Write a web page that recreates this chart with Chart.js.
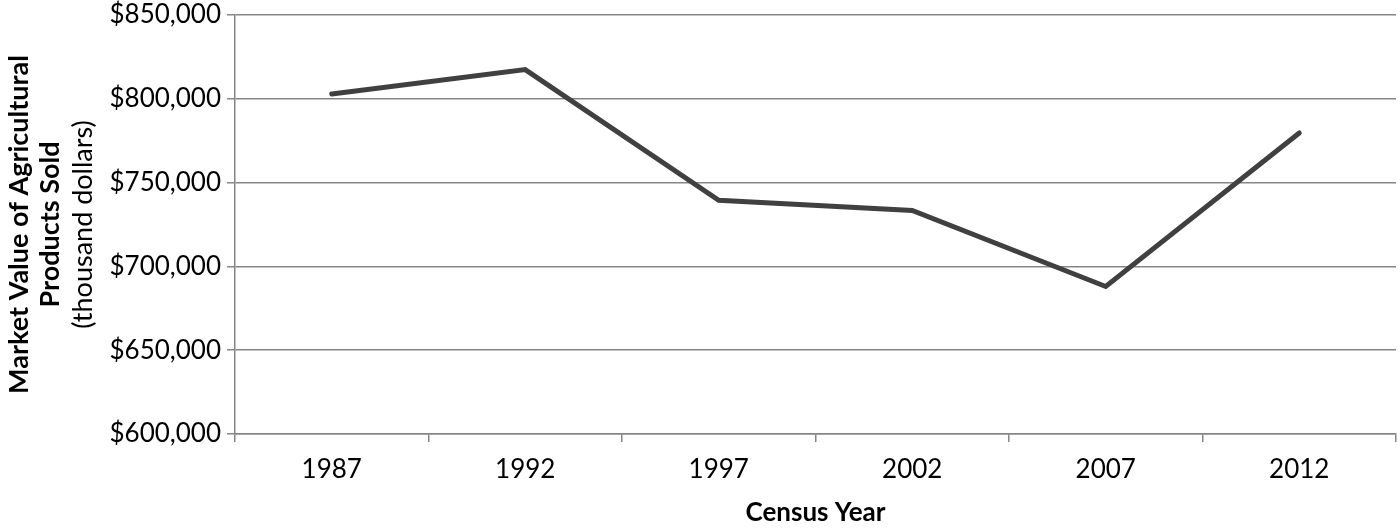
<!DOCTYPE html>
<html>
<head>
<meta charset="utf-8">
<script src="https://cdn.jsdelivr.net/npm/chart.js@4"></script>
<style>
  html, body { margin: 0; padding: 0; background: #fff; }
  #wrap { width: 1400px; height: 528px; }
</style>
</head>
<body>
<div id="wrap"><canvas id="chart"></canvas></div>
<script>
const years = ['1987', '1992', '1997', '2002', '2007', '2012'];
const marketValue = [802900, 817400, 739400, 733400, 688000, 779600];
const yTitleLines = ['Market Value of Agricultural', 'Products Sold', '(thousand dollars)'];
const xTitle = 'Census Year';

const FONT = 'Lato';
const GRID = '#868686';

// rotated y axis title, two bold lines and one normal line
const yTitlePlugin = {
    id: 'yTitle',
    afterDraw(chart) {
        const ctx = chart.ctx;
        const area = chart.chartArea;
        const cy = (area.top + area.bottom) / 2;
        const xs = [19, 50, 83];
        ctx.save();
        ctx.fillStyle = '#000';
        ctx.textAlign = 'center';
        ctx.textBaseline = 'middle';
        yTitleLines.forEach((line, i) => {
            ctx.save();
            ctx.translate(xs[i], cy);
            ctx.rotate(-Math.PI / 2);
            ctx.font = (i < 2 ? 'bold ' : '') + '27px ' + FONT;
            ctx.fillText(line, 0, 0);
            ctx.restore();
        });
        ctx.restore();
    }
};

new Chart(document.getElementById('chart').getContext('2d'), {
    type: 'line',
    data: {
        labels: years,
        datasets: [{
            label: 'Market Value',
            data: marketValue,
            borderColor: '#404040',
            borderWidth: 5,
            pointRadius: 0,
            tension: 0,
            borderCapStyle: 'round',
            borderJoinStyle: 'miter'
        }]
    },
    options: {
        responsive: true,
        maintainAspectRatio: false,
        animation: false,
        layout: { padding: { top: 15, right: 4, left: 0, bottom: 0 } },
        plugins: {
            legend: { display: false },
            tooltip: { enabled: false }
        },
        scales: {
            x: {
                offset: true,
                grid: {
                    offset: true,
                    drawOnChartArea: false,
                    color: GRID,
                    lineWidth: 1.5,
                    tickLength: 8
                },
                border: { color: GRID, width: 1.5 },
                ticks: {
                    color: '#000',
                    font: { family: FONT, size: 26 },
                    padding: 12,
                    maxRotation: 0
                },
                title: {
                    display: true,
                    text: xTitle,
                    color: '#000',
                    font: { family: FONT, size: 26, weight: 'bold' },
                    padding: { top: 14, bottom: 0 }
                },
                afterFit(scale) { scale.height = 94; }
            },
            y: {
                min: 600000,
                max: 850000,
                ticks: {
                    stepSize: 50000,
                    color: '#000',
                    font: { family: FONT, size: 26 },
                    padding: 6,
                    callback: v => '$' + v.toLocaleString('en-US')
                },
                grid: {
                    color: GRID,
                    lineWidth: 1.5,
                    tickLength: 8
                },
                border: { color: GRID, width: 1.5 },
                afterFit(scale) {
                    scale.width = 235;
                    scale.paddingTop = 0;
                    scale.paddingBottom = 0;
                }
            }
        }
    },
    plugins: [yTitlePlugin]
});
</script>
</body>
</html>
